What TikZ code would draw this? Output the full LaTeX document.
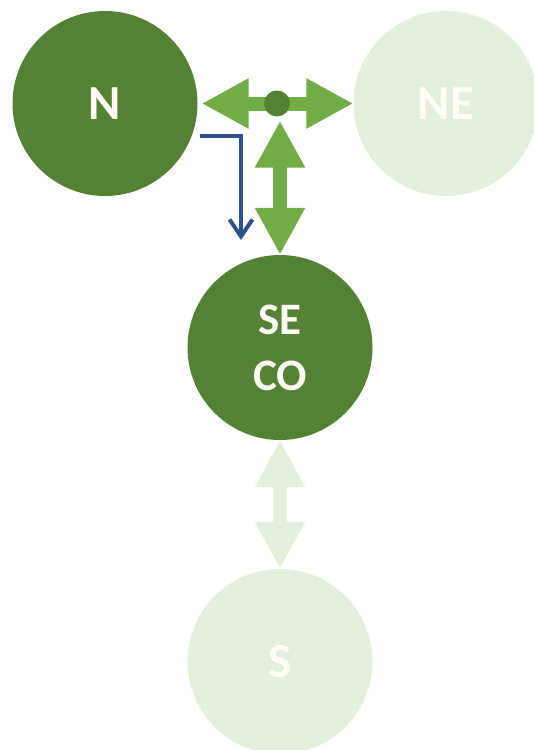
\documentclass[tikz,border=0pt]{standalone}
\usepackage{fontspec}
\setmainfont{Carlito}
\usetikzlibrary{arrows.meta}

\definecolor{darkgreen}{HTML}{548235}
\definecolor{midgreen}{HTML}{70AD47}
\definecolor{palegreen}{HTML}{E2EFDA}
\definecolor{flowblue}{HTML}{2F528F}
\definecolor{labelwhite}{HTML}{FFFCF5}

\begin{document}
\begin{tikzpicture}[x=1pt,y=-1pt,
    region/.style={circle,minimum size=185pt,inner sep=0pt,text=labelwhite,
      font=\bfseries\fontsize{49}{56}\selectfont,align=center},
    link/.style={line width=14pt,
      {Triangle[length=47pt,width=47pt]}-{Triangle[length=47pt,width=47pt]}},
    flow/.style={line width=4pt,flowblue,-{Straight Barb[length=17pt,width=23pt]}}]
    \useasboundingbox (0,0) rectangle (534,750);

    % Define the regions
    \node[region,fill=darkgreen] (N) at (105,103.5) {N};
    \node[region,fill=palegreen] (NE) at (446,103.5) {NE};
    \node[region,fill=darkgreen,font=\bfseries\fontsize{45}{56}\selectfont] (SECO) at (280,347.5) {SE\\CO};
    \node[region,fill=palegreen] (S) at (280,661.5) {S};

    % Draw the links
    \draw[link,midgreen] ([xshift=4pt]N.east) -- (NE.west);
    \node[circle,fill=darkgreen,minimum size=26pt,inner sep=0pt] (dot) at (277,103.5) {};
    \draw[link,midgreen] ([yshift=-4pt]SECO.north |- dot.south) -- (SECO.north);
    \draw[link,palegreen] (SECO.south) -- (S.north);

    % Draw the flow arrow
    \coordinate (flow start) at (200,136);
    \coordinate (flow end) at (241,240);
    \draw[flow] (flow start) -| (flow end);
\end{tikzpicture}
\end{document}
